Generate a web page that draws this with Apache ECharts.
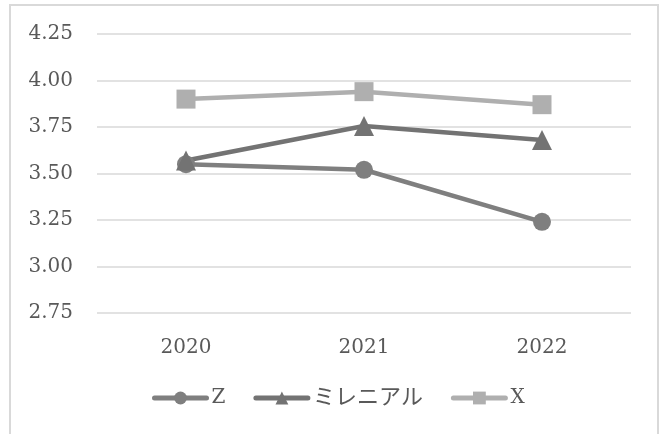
<!DOCTYPE html>
<html>
<head>
<meta charset="utf-8">
<script src="https://cdn.jsdelivr.net/npm/echarts@6/dist/echarts.min.js"></script>
<style>
  html, body { margin: 0; padding: 0; background: #fff; }
  #chart { width: 668px; height: 434px; }
</style>
</head>
<body>
<div id="chart"></div>
<script>
const years = ['2020', '2021', '2022']
const genZ = [3.55, 3.52, 3.24]
const millennial = [3.57, 3.755, 3.68]
const genX = [3.90, 3.94, 3.87]

const font = '"DejaVu Serif", "Noto Sans CJK JP", serif'

const chart = echarts.init(document.getElementById('chart'))

chart.setOption({
  backgroundColor: '#fff',
  animation: false,
  textStyle: { fontFamily: font },
  graphic: [
    {
      type: 'rect',
      shape: { x: 10, y: 5, width: 648, height: 445 },
      style: { fill: 'none', stroke: '#d9d9d9', lineWidth: 2 },
      silent: true,
    },
  ],
  grid: { left: 97, right: 37, top: 34, bottom: 121 },
  legend: {
    top: 387,
    left: 152,
    padding: 0,
    itemWidth: 52,
    itemHeight: 16,
    itemGap: 28,
    lineStyle: { width: 5, cap: 'round' },
    formatter: (name) => (/^[A-Z]$/.test(name) ? name : '{jp|' + name + '}'),
    textStyle: {
      color: '#595959',
      fontSize: 20,
      fontFamily: font,
      rich: { jp: { fontSize: 22, color: '#595959', fontFamily: font } },
    },
    data: ['Z', 'ミレニアル', 'X'],
  },
  xAxis: {
    type: 'category',
    data: years,
    axisLine: { show: false },
    axisTick: { show: false },
    axisLabel: { color: '#595959', fontSize: 20, margin: 25 },
  },
  yAxis: {
    type: 'value',
    min: 2.75,
    max: 4.25,
    interval: 0.25,
    axisLabel: {
      color: '#595959',
      fontSize: 20,
      margin: 24,
      formatter: (v) => v.toFixed(2),
    },
    splitLine: { lineStyle: { color: '#d9d9d9', width: 1.5 } },
  },
  series: [
    {
      name: 'Z',
      type: 'line',
      data: genZ,
      symbol: 'circle',
      symbolSize: 18,
      lineStyle: { color: '#7f7f7f', width: 4.5 },
      itemStyle: { color: '#7f7f7f' },
    },
    {
      name: 'ミレニアル',
      type: 'line',
      data: millennial,
      symbol: 'triangle',
      symbolSize: 20,
      lineStyle: { color: '#737373', width: 4.5 },
      itemStyle: { color: '#737373' },
    },
    {
      name: 'X',
      type: 'line',
      data: genX,
      symbol: 'rect',
      symbolSize: 19,
      lineStyle: { color: '#afafaf', width: 4.5 },
      itemStyle: { color: '#afafaf' },
    },
  ],
})
</script>
</body>
</html>
